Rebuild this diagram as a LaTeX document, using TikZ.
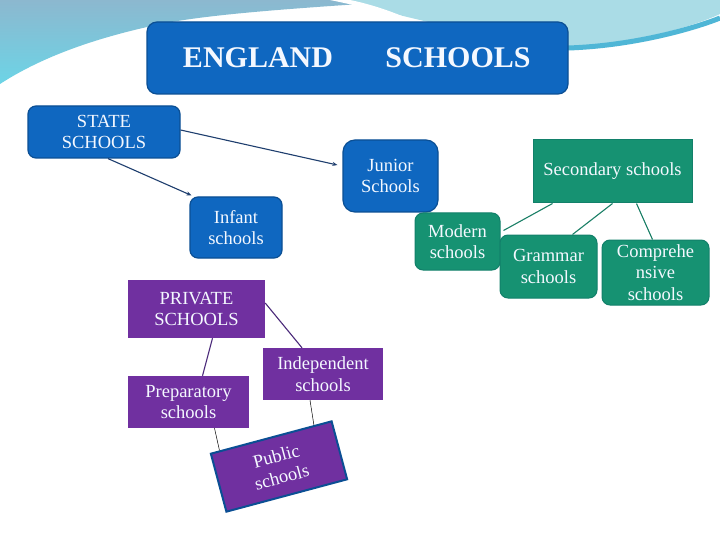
\documentclass[tikz,border=0pt]{standalone}
\usepackage{fontspec}
\setmainfont{Liberation Serif}
\usetikzlibrary{calc,arrows.meta}
\definecolor{boxblue}{HTML}{0F67C0}
\definecolor{edgeblue}{HTML}{0B4F94}
\definecolor{boxgreen}{HTML}{169272}
\definecolor{edgegreen}{HTML}{12806A}
\definecolor{boxpurple}{HTML}{7030A0}
\definecolor{txtwhite}{HTML}{F4F8FF}
\definecolor{bgleftA}{HTML}{8CB8CF}
\definecolor{bgleftB}{HTML}{6CD4E6}
\definecolor{bgright}{HTML}{AADCE6}
\definecolor{bgband}{HTML}{4FB6D6}
\definecolor{arrblue}{HTML}{1E3E6E}
\definecolor{linegreen}{HTML}{1A7F66}
\definecolor{linepurple}{HTML}{4B2A7A}
\begin{document}
\begin{tikzpicture}[x=1pt,y=-1pt,
  base/.style={inner sep=0pt, align=center, text=txtwhite,
    font=\fontsize{18.5}{21.5}\selectfont},
  bluebox/.style={base, fill=boxblue, draw=edgeblue, line width=1.2pt, rounded corners=8pt},
  greenbox/.style={base, fill=boxgreen, draw=edgegreen, line width=1pt, rounded corners=8pt},
  purplebox/.style={base, fill=boxpurple},
  arr/.style={draw=arrblue, line width=1.1pt, -{Stealth[length=5pt,width=4pt]}},
  gline/.style={draw=linegreen, line width=1.1pt},
  pline/.style={draw=linepurple, line width=1.1pt},
  thin/.style={draw=black, line width=0.5pt}]
\useasboundingbox (0,0) rectangle (720,540);
\fill[white] (0,0) rectangle (720,540);
% background decoration
\shade[top color=bgleftA, bottom color=bgleftB]
  (0,0) -- (420,0) .. controls (300,8) and (200,14) .. (147,27)
  .. controls (90,40) and (40,58) .. (0,84) -- cycle;
\fill[bgright] (335,0) .. controls (400,14) and (480,38) .. (568,46)
  .. controls (630,44) and (690,28) .. (720,14) -- (720,0) -- cycle;
\draw[bgband, line width=5pt] (568,48) .. controls (630,46) and (690,30) .. (720,18);
\fill[white] (330,0) .. controls (360,6) and (390,14) .. (420,24)
  .. controls (395,12) and (370,4) .. (350,0) -- cycle;
% nodes
\node[bluebox, rounded corners=10pt, minimum width=421pt, minimum height=72pt] (title) at (357.5,58) {};
\node[text=txtwhite, font=\fontsize{30}{30}\selectfont\bfseries] (t1) at (258,58) {ENGLAND};
\node[text=txtwhite, font=\fontsize{30}{30}\selectfont\bfseries] (t2) at (458,58) {SCHOOLS};
\node[bluebox, minimum width=152pt, minimum height=52pt] (state) at (104,132) {STATE\\SCHOOLS};
\node[bluebox, rounded corners=12pt, minimum width=95pt, minimum height=72pt] (junior) at (390.5,176) {Junior\\Schools};
\node[bluebox, minimum width=92pt, minimum height=61pt] (infant) at (236,227.5) {Infant\\schools};
\node[base, fill=boxgreen, draw=edgegreen, line width=1pt, minimum width=159pt, minimum height=63pt] (secondary) at (612.5,171.5) {Secondary schools};
\node[greenbox, minimum width=85pt, minimum height=57pt] (modern) at (457.5,241.5) {Modern\\schools};
\node[greenbox, minimum width=97pt, minimum height=63pt] (grammar) at (548.5,266.5) {Grammar\\schools};
\node[greenbox, minimum width=107pt, minimum height=65pt] (compre) at (655.5,272.5) {Comprehe\\nsive\\schools};
\node[purplebox, minimum width=137pt, minimum height=58pt] (private) at (196.5,309) {PRIVATE\\SCHOOLS};
\node[purplebox, minimum width=121pt, minimum height=52pt] (prep) at (188.5,402) {Preparatory\\schools};
\node[purplebox, minimum width=120pt, minimum height=52pt] (indep) at (323,374) {Independent\\schools};
\node[base, fill=boxpurple, draw=edgeblue, line width=2pt, minimum width=125pt, minimum height=60pt, rotate=15] (public) at (279,466.5) {Public\\schools};
% connectors
\draw[arr] ([yshift=2pt]state.east) -- ([shift={(-5,-11)}]junior.west);
\draw[arr] ([xshift=4pt]state.south) -- ([shift={(2,-1)}]infant.north west);
\draw[gline] ([xshift=-60pt]secondary.south) -- ([shift={(3,-11)}]modern.east);
\draw[gline] (secondary.south) -- ([xshift=24pt]grammar.north);
\draw[gline] ([xshift=24pt]secondary.south) -- ([xshift=-3pt]compre.north);
\draw[pline] ([xshift=16pt]private.south) -- ([xshift=14pt]prep.north);
\draw[pline] ([yshift=6pt]private.east) -- ([xshift=-21pt]indep.north);
\draw[thin] ([xshift=26pt]prep.south) -- ($(public.north west)!0.08!(public.north east)$);
\draw[thin] ([xshift=-13pt]indep.south) -- ($(public.north west)!0.85!(public.north east)$);
\end{tikzpicture}
\end{document}
